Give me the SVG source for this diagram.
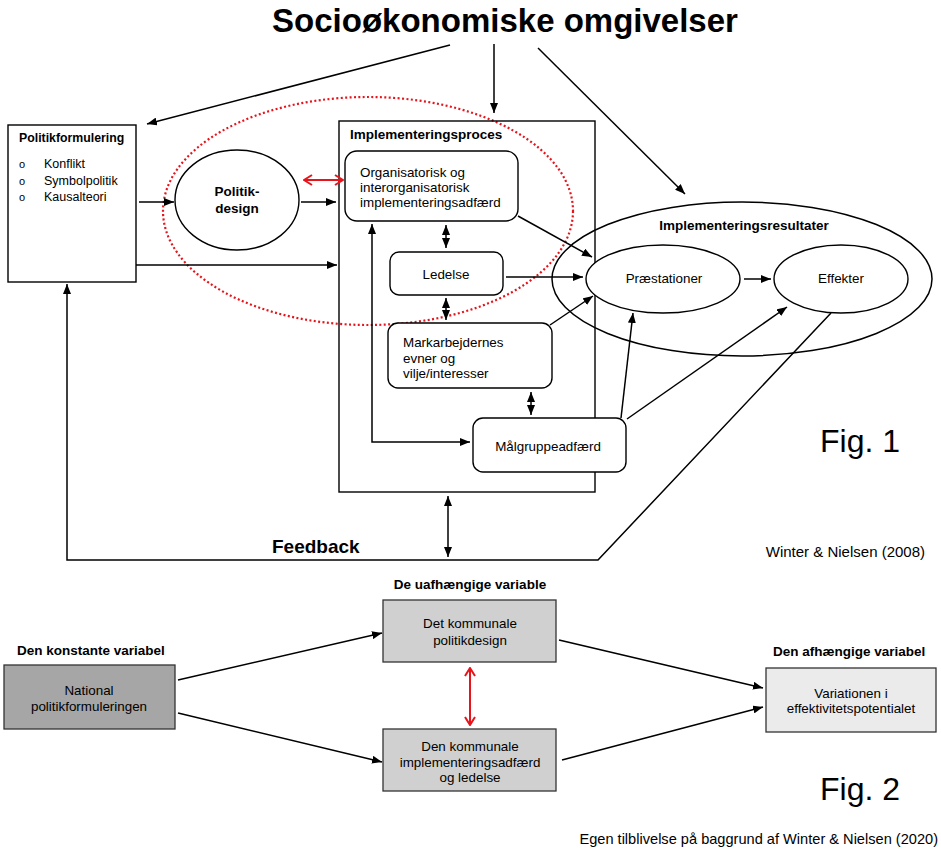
<svg xmlns="http://www.w3.org/2000/svg" width="941" height="858" viewBox="0 0 941 858">
<defs>
<marker id="ah" markerUnits="userSpaceOnUse" markerWidth="10" markerHeight="8" refX="10" refY="4" orient="auto-start-reverse"><path d="M0,0 L10,4 L0,8 z" fill="#000"/></marker>
<marker id="rh" markerUnits="userSpaceOnUse" markerWidth="10" markerHeight="12" refX="9" refY="6" orient="auto-start-reverse"><path d="M1,1 L9,6 L1,11" fill="none" stroke="#e8141b" stroke-width="2"/></marker>
</defs>
<style>
text{font-family:"Liberation Sans",Arial,sans-serif;fill:#000}
.b{font-weight:bold}
.t{font-size:13.4px}
.h{font-size:13.5px;font-weight:bold}
.box{fill:#fff;stroke:#000;stroke-width:1.4}
.ln{fill:none;stroke:#000;stroke-width:1.5}
.c{text-anchor:middle}
.a{marker-end:url(#ah)}
.d{marker-start:url(#ah);marker-end:url(#ah)}
.red{fill:none;stroke:#e8141b;stroke-width:2}
</style>
<rect width="941" height="858" fill="#fff"/>
<text x="505" y="32" class="b c" style="font-size:33px">Socioøkonomiske omgivelser</text>

<g id="red-ellipse"><ellipse cx="368" cy="211" rx="205" ry="114" fill="none" stroke="#e8141b" stroke-width="2.2" stroke-dasharray="2 2.4"/></g>

<g id="politikformulering">
<rect x="8" y="125" width="128" height="157" class="box"/>
<text x="19" y="142" class="b" style="font-size:12.3px">Politikformulering</text>
<text x="19" y="168" style="font-size:11px">o</text>
<text x="19" y="185" style="font-size:11px">o</text>
<text x="19" y="201" style="font-size:11px">o</text>
<text x="44" y="168" style="font-size:12.5px">Konflikt</text>
<text x="44" y="185" style="font-size:12.5px">Symbolpolitik</text>
<text x="44" y="201" style="font-size:12.5px">Kausalteori</text>
</g>

<g id="politikdesign">
<ellipse cx="237" cy="200" rx="62" ry="50" class="box"/>
<text x="237" y="196" class="b c" style="font-size:13.5px">Politik-</text>
<text x="237" y="213" class="b c" style="font-size:13.5px">design</text>
</g>

<g id="implementeringsproces">
<rect x="339" y="121" width="256" height="371" fill="none" stroke="#000" stroke-width="1.4"/>
<text x="350" y="139" class="h">Implementeringsproces</text>
</g>

<g id="organisatorisk">
<rect x="345" y="151" width="173" height="70" rx="12" class="box"/>
<text x="360" y="177" class="t">Organisatorisk og</text>
<text x="360" y="192" class="t">interorganisatorisk</text>
<text x="360" y="207" class="t">implementeringsadfærd</text>
</g>

<g id="ledelse">
<rect x="390" y="252" width="113" height="43" rx="9" class="box"/>
<text x="446" y="279" class="t c">Ledelse</text>
</g>

<g id="markarbejdernes">
<rect x="388" y="323" width="164" height="65" rx="10" class="box"/>
<text x="403" y="347" class="t">Markarbejdernes</text>
<text x="403" y="363" class="t">evner og</text>
<text x="403" y="378" class="t">vilje/interesser</text>
</g>

<g id="maalgruppeadfaerd">
<rect x="473" y="418" width="153" height="54" rx="10" class="box"/>
<text x="548" y="451" class="t c">Målgruppeadfærd</text>
</g>

<g id="implementeringsresultater">
<ellipse cx="742" cy="279" rx="190" ry="77" fill="none" stroke="#000" stroke-width="1.5"/>
<text x="744" y="230" class="h c">Implementeringsresultater</text>
</g>

<g id="praestationer">
<ellipse cx="663" cy="279" rx="77" ry="34" class="box"/>
<text x="664" y="283" class="t c">Præstationer</text>
</g>

<g id="effekter">
<ellipse cx="841" cy="279" rx="67" ry="34" class="box"/>
<text x="841" y="283" class="t c">Effekter</text>
</g>

<g id="connectors-fig1">
<line x1="450" y1="45" x2="147" y2="124" class="ln a"/>
<line x1="494" y1="44" x2="494" y2="113" class="ln a"/>
<line x1="538" y1="48" x2="685" y2="194" class="ln a"/>
<line x1="139" y1="202" x2="174" y2="202" class="ln a"/>
<line x1="301" y1="202" x2="336" y2="202" class="ln a"/>
<line x1="136" y1="265" x2="337" y2="265" class="ln a"/>
<line x1="304" y1="180" x2="343" y2="180" class="red" marker-start="url(#rh)" marker-end="url(#rh)"/>
<line x1="446" y1="225" x2="446" y2="248" class="ln d"/>
<line x1="446" y1="298" x2="446" y2="320" class="ln d"/>
<line x1="531" y1="392" x2="531" y2="415" class="ln d"/>
<polyline points="372,224 372,442 470,442" class="ln d"/>
<line x1="518" y1="216" x2="592" y2="257" class="ln a"/>
<line x1="506" y1="277" x2="583" y2="277" class="ln a"/>
<line x1="550" y1="325" x2="593" y2="296" class="ln a"/>
<line x1="621" y1="418" x2="633" y2="313" class="ln a"/>
<line x1="627" y1="419" x2="787" y2="307" class="ln a"/>
<line x1="744" y1="279" x2="771" y2="279" class="ln a"/>
<polyline points="831,313 598,560 67,560 67,284" class="ln a"/>
<line x1="448" y1="496" x2="448" y2="557" class="ln d"/>
</g>
<text x="272" y="553" class="b" style="font-size:19px">Feedback</text>
<text x="925" y="557" style="font-size:15px;text-anchor:end">Winter &amp; Nielsen (2008)</text>
<text x="820" y="452" style="font-size:32px">Fig. 1</text>

<text x="470" y="589" class="h c">De uafhængige variable</text>
<text x="17" y="655" class="h">Den konstante variabel</text>
<text x="773" y="656" class="h">Den afhængige variabel</text>

<g id="national">
<rect x="4" y="665" width="171" height="64" fill="#a6a6a6" stroke="#333" stroke-width="1.3"/>
<text x="89" y="695" class="t c">National</text>
<text x="89" y="711" class="t c">politikformuleringen</text>
</g>

<g id="kommunale-politikdesign">
<rect x="383" y="600" width="173" height="62" fill="#d0d0d0" stroke="#333" stroke-width="1.3"/>
<text x="470" y="628" class="t c">Det kommunale</text>
<text x="470" y="645" class="t c">politikdesign</text>
</g>

<g id="kommunale-implementering">
<rect x="383" y="729" width="173" height="62" fill="#d0d0d0" stroke="#333" stroke-width="1.3"/>
<text x="470" y="751" class="t c">Den kommunale</text>
<text x="470" y="767" class="t c">implementeringsadfærd</text>
<text x="470" y="782" class="t c">og ledelse</text>
</g>

<g id="variationen">
<rect x="766" y="668" width="170" height="64" fill="#ebebeb" stroke="#333" stroke-width="1.3"/>
<text x="851" y="698" class="t c">Variationen i</text>
<text x="851" y="713" class="t c">effektivitetspotentialet</text>
</g>

<g id="connectors-fig2">
<line x1="178" y1="680" x2="382" y2="633" class="ln a"/>
<line x1="178" y1="713" x2="382" y2="762" class="ln a"/>
<line x1="559" y1="640" x2="763" y2="688" class="ln a"/>
<line x1="562" y1="760" x2="763" y2="707" class="ln a"/>
<line x1="470" y1="668" x2="470" y2="725" class="red" marker-start="url(#rh)" marker-end="url(#rh)"/>
</g>
<text x="820" y="800" style="font-size:32px">Fig. 2</text>
<text x="938" y="844" style="font-size:14.6px;text-anchor:end">Egen tilblivelse på baggrund af Winter &amp; Nielsen (2020)</text>
</svg>
